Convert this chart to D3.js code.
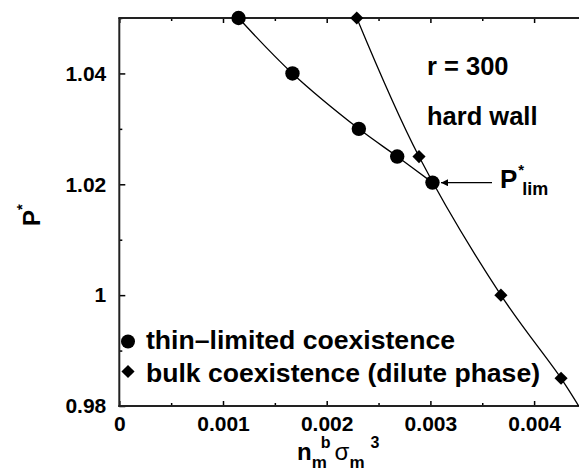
<!DOCTYPE html>
<html><head><meta charset="utf-8">
<script src="https://cdn.jsdelivr.net/npm/d3@7"></script>
<style>
body{margin:0;background:#fff;}
svg text{font-family:"Liberation Sans",Arial,Helvetica,sans-serif;font-weight:bold;fill:#000;}
</style></head>
<body><svg id="c" width="579" height="475"></svg>
<script>
// data
const thinX = [0.00115, 0.00167, 0.00231, 0.00268, 0.00302];
const thinY = [1.05, 1.04, 1.03, 1.025, 1.0203];
const bulkX = [0.00229, 0.00289, 0.00368, 0.00426];
const bulkY = [1.05, 1.025, 1.0, 0.985];
const bulkCurveX = [0.00229, 0.00289, 0.00368, 0.00426, 0.00443];
const bulkCurveY = [1.05, 1.025, 1.0, 0.985, 0.98];
const xTicks = [0, 0.001, 0.002, 0.003, 0.004];
const xTickLabels = ["0", "0.001", "0.002", "0.003", "0.004"];
const yTicks = [0.98, 1.0, 1.02, 1.04];
const yTickLabels = ["0.98", "1", "1.02", "1.04"];
const legendLabels = ["thin\u2013limited coexistence", "bulk coexistence (dilute phase)"];

const svg = d3.select("#c");
const L = 119.3, T = 18, B = 406;
const x = d3.scaleLinear().domain([0, 0.0045]).range([L, L + 0.0045 * 103.7 * 1000]);
const y = d3.scaleLinear().domain([0.98, 1.05]).range([B, T]);

svg.append("defs").append("clipPath").attr("id", "clip")
  .append("rect").attr("x", L).attr("y", T - 10).attr("width", 579 - L).attr("height", B - T + 10);

// axes
const minorX = d3.range(0, 0.00451, 0.0005);
const minorY = d3.range(0.98, 1.0501, 0.01);
const ax = svg.append("g");
// bottom axis
ax.append("g").attr("transform", `translate(0,${B})`)
  .call(d3.axisBottom(x).tickValues(xTicks).tickSize(-5).tickFormat((d, i) => xTickLabels[i]).tickPadding(10))
  .call(g => g.select(".domain").remove())
  .call(g => g.selectAll("text").attr("font-size", 21).attr("dy", "0.71em"));
ax.append("g").attr("transform", `translate(0,${B})`)
  .call(d3.axisBottom(x).tickValues(minorX.filter(v => !xTicks.some(t => Math.abs(t - v) < 1e-9))).tickSize(-3).tickFormat(""))
  .call(g => g.select(".domain").remove());
// top axis
ax.append("g").attr("transform", `translate(0,${T})`)
  .call(d3.axisTop(x).tickValues(xTicks).tickSize(-5).tickFormat(""))
  .call(g => g.select(".domain").remove());
ax.append("g").attr("transform", `translate(0,${T})`)
  .call(d3.axisTop(x).tickValues(minorX.filter(v => !xTicks.some(t => Math.abs(t - v) < 1e-9))).tickSize(-3).tickFormat(""))
  .call(g => g.select(".domain").remove());
// left axis
ax.append("g").attr("transform", `translate(${L},0)`)
  .call(d3.axisLeft(y).tickValues(yTicks).tickSize(-6).tickFormat((d, i) => yTickLabels[i]).tickPadding(13))
  .call(g => g.select(".domain").remove())
  .call(g => g.selectAll("text").attr("font-size", 21));
ax.append("g").attr("transform", `translate(${L},0)`)
  .call(d3.axisLeft(y).tickValues(minorY.filter(v => !yTicks.some(t => Math.abs(t - v) < 1e-9))).tickSize(-3).tickFormat(""))
  .call(g => g.select(".domain").remove());
ax.selectAll(".tick line").attr("stroke", "#000").attr("stroke-width", 1.5);

// frame lines
svg.append("line").attr("x1", L).attr("x2", L).attr("y1", T).attr("y2", B + 1).attr("stroke", "#222").attr("stroke-width", 2);
svg.append("line").attr("x1", L - 1).attr("x2", 579).attr("y1", B).attr("y2", B).attr("stroke", "#222").attr("stroke-width", 2);
svg.append("line").attr("x1", L - 1).attr("x2", 579).attr("y1", T).attr("y2", T).attr("stroke", "#222").attr("stroke-width", 2);

// lines
const line = d3.line().x(d => x(d[0])).y(d => y(d[1])).curve(d3.curveCatmullRom);
const plot = svg.append("g").attr("clip-path", "url(#clip)");
plot.append("path").datum(thinX.map((v, i) => [v, thinY[i]])).attr("d", line)
  .attr("fill", "none").attr("stroke", "#000").attr("stroke-width", 1.3);
plot.append("path").datum(bulkCurveX.map((v, i) => [v, bulkCurveY[i]])).attr("d", line)
  .attr("fill", "none").attr("stroke", "#000").attr("stroke-width", 1.3);

// markers
const circ = d3.symbol().type(d3.symbolCircle).size(Math.PI * 7.2 * 7.2);
const diam = d3.symbol().type(d3.symbolSquare).size(9.3 * 9.3);
svg.append("g").selectAll("path").data(thinX.map((v, i) => [v, thinY[i]])).join("path")
  .attr("d", circ).attr("transform", d => `translate(${x(d[0])},${y(d[1])})`).attr("fill", "#000");
svg.append("g").selectAll("path").data(bulkX.map((v, i) => [v, bulkY[i]])).join("path")
  .attr("d", diam).attr("transform", d => `translate(${x(d[0])},${y(d[1])}) rotate(45)`).attr("fill", "#000");

// legend
svg.append("path").attr("d", d3.symbol().type(d3.symbolCircle).size(Math.PI * 7 * 7))
  .attr("transform", "translate(128,341.5)").attr("fill", "#000");
svg.append("path").attr("d", d3.symbol().type(d3.symbolSquare).size(9.3 * 9.3))
  .attr("transform", "translate(128,371.5) rotate(45)").attr("fill", "#000");
svg.append("text").attr("x", 146).attr("y", 349).attr("font-size", 25).attr("textLength", 309).attr("lengthAdjust", "spacingAndGlyphs").text(legendLabels[0]);
svg.append("text").attr("x", 146).attr("y", 382).attr("font-size", 25).attr("textLength", 394).attr("lengthAdjust", "spacingAndGlyphs").text(legendLabels[1]);

// annotations
svg.append("text").attr("x", 427).attr("y", 75).attr("font-size", 25.5).text("r = 300");
svg.append("text").attr("x", 427).attr("y", 125).attr("font-size", 25.5).text("hard wall");
// arrow
svg.append("defs").append("marker").attr("id", "ah").attr("viewBox", "0 0 10 10").attr("refX", 10).attr("refY", 5)
  .attr("markerWidth", 7).attr("markerHeight", 7).attr("markerUnits", "userSpaceOnUse").attr("orient", "auto")
  .append("path").attr("d", "M0,0L10,5L0,10Z").attr("fill", "#000");
svg.append("line").attr("x1", 492).attr("y1", 182.7).attr("x2", 441).attr("y2", 182.7)
  .attr("stroke", "#000").attr("stroke-width", 1.3).attr("marker-end", "url(#ah)");
const pl = svg.append("text").attr("x", 500).attr("y", 188).attr("font-size", 26);
pl.append("tspan").text("P");
pl.append("tspan").attr("font-size", 15).attr("dy", -13).attr("dx", 1).text("*");
pl.append("tspan").attr("font-size", 18).attr("dy", 20).attr("dx", -2).text("lim");

// axis titles
const yt = svg.append("text").attr("transform", "translate(40,226) rotate(-90)").attr("font-size", 24);
yt.append("tspan").text("P");
yt.append("tspan").attr("font-size", 15).attr("dy", -13).text("*");

const xt = svg.append("text").attr("x", 297).attr("y", 460).attr("font-size", 24);
xt.append("tspan").text("n");
xt.append("tspan").attr("font-size", 17).attr("dy", 8).text("m");
xt.append("tspan").attr("font-size", 16).attr("dy", -20).attr("dx", -6).text("b");
xt.append("tspan").attr("font-size", 24).attr("dy", 12).attr("dx", 4).attr("font-weight", "normal").text("\u03c3");
xt.append("tspan").attr("font-size", 17).attr("dy", 8).text("m");
xt.append("tspan").attr("font-size", 16).attr("dy", -20).attr("dx", 6).text("3");
</script></body></html>
